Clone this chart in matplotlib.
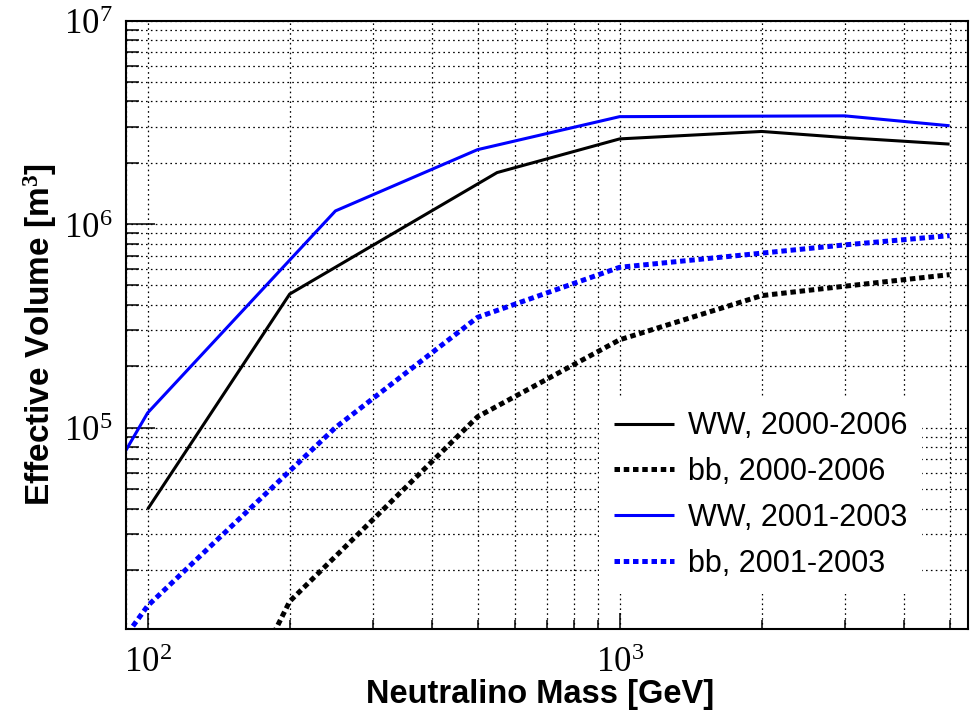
import matplotlib
matplotlib.use("Agg")
import math
import matplotlib.pyplot as plt
from matplotlib.ticker import FixedLocator, LogLocator, NullFormatter, FuncFormatter

# ---- data ----
mass_ww_0006 = [100, 200, 550, 1000, 2000, 3000, 5000]
ww_0006 = [3.97e4, 4.53e5, 1.79e6, 2.62e6, 2.85e6, 2.66e6, 2.47e6]

mass_bb_0006 = [100, 200, 500, 1000, 2000, 3000, 5000]
bb_0006 = [5.6e2, 1.40e4, 1.13e5, 2.70e5, 4.45e5, 4.95e5, 5.64e5]

mass_0103 = [50, 100, 250, 500, 1000, 3000, 5000]
ww_0103 = [7.4e3, 1.18e5, 1.16e6, 2.32e6, 3.37e6, 3.40e6, 3.04e6]
bb_0103 = [1.45e3, 1.33e4, 1.00e5, 3.48e5, 6.13e5, 7.90e5, 8.77e5]

labels = ["WW, 2000-2006", "bb, 2000-2006", "WW, 2001-2003", "bb, 2001-2003"]
x_major = [1e2, 1e3]
y_major = [1e5, 1e6, 1e7]

plt.rcParams['mathtext.fontset'] = 'custom'
plt.rcParams['mathtext.rm'] = 'Liberation Serif'
plt.rcParams['mathtext.it'] = 'Liberation Serif:italic'
plt.rcParams['mathtext.bf'] = 'Liberation Serif:bold'

W, H = 975, 715
fig = plt.figure(figsize=(W / 100, H / 100), dpi=100)
ax = fig.add_axes([126 / W, 1 - 628.5 / H, (968 - 126) / W, (628.5 - 20.5) / H])

blue = "#0000ff"
dot = (0, (1.1, 0.75))
lw_solid = 2.2
lw_dot = 3.6

ax.plot(mass_ww_0006, ww_0006, color="black", lw=lw_solid, label=labels[0],
        solid_capstyle="butt")
ax.plot(mass_bb_0006, bb_0006, color="black", lw=lw_dot, linestyle=dot, label=labels[1],
        dash_capstyle="butt")
ax.plot(mass_0103, ww_0103, color=blue, lw=lw_solid, label=labels[2],
        solid_capstyle="butt")
ax.plot(mass_0103, bb_0103, color=blue, lw=lw_dot, linestyle=dot, label=labels[3],
        dash_capstyle="butt")

ax.set_xscale("log")
ax.set_yscale("log")
ax.set_xlim(90, 5470)
ax.set_ylim(1.03e4, 1.0e7)

ax.xaxis.set_major_locator(FixedLocator(x_major))
ax.yaxis.set_major_locator(FixedLocator(y_major))
ax.xaxis.set_minor_locator(LogLocator(base=10, subs=range(2, 10), numticks=20))
ax.yaxis.set_minor_locator(LogLocator(base=10, subs=range(2, 10), numticks=20))
ax.xaxis.set_minor_formatter(NullFormatter())
ax.yaxis.set_minor_formatter(NullFormatter())

def fmt(v, pos):
    e = int(round(math.log10(v)))
    return r"$\mathrm{10^{%d}}$" % e

ax.xaxis.set_major_formatter(FuncFormatter(fmt))
ax.yaxis.set_major_formatter(FuncFormatter(fmt))

ax.tick_params(axis="both", which="both", direction="in", top=False, right=False,
               color="black", width=1.1)
ax.tick_params(axis="y", which="major", length=21, pad=10, labelsize=25)
ax.tick_params(axis="y", which="minor", length=9.5)
ax.tick_params(axis="x", which="major", length=11.5, pad=12, labelsize=25)
ax.tick_params(axis="x", which="minor", length=6.5)

for sp in ax.spines.values():
    sp.set_linewidth(1.5)
    sp.set_color("black")

ax.set_axisbelow(True)
ax.grid(True, which="both", axis="both", color="black", linestyle=(0, (1.3, 2.6)),
        linewidth=0.9)

fig.text(540 / W, 1 - 695 / H, "Neutralino Mass [GeV]", ha="center", va="center",
         fontsize=23.5, fontweight="bold", family="Liberation Sans")
fig.text(40 / W, 1 - 335 / H, "Effective Volume [m$\\mathbf{^3}$]", ha="center", va="center",
         rotation=90, fontsize=24, fontweight="bold", family="Liberation Sans")

leg = ax.legend(loc="upper left", bbox_to_anchor=(599 / W, 1 - 396 / H),
                bbox_transform=fig.transFigure, frameon=True, fancybox=False,
                facecolor="white", edgecolor="white", framealpha=1.0,
                prop={"family": "Liberation Sans", "size": 22},
                handlelength=1.95, handletextpad=0.45, labelspacing=0.52,
                borderpad=0.5, borderaxespad=0)
leg.get_frame().set_linewidth(0)

fig.savefig("out.png", dpi=100)
